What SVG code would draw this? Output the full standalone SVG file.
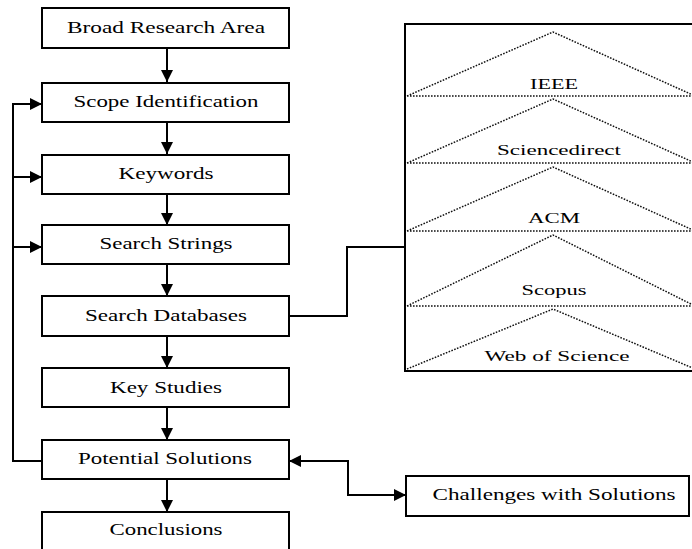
<svg xmlns="http://www.w3.org/2000/svg" width="692" height="549" viewBox="0 0 692 549">
<style>
.box{fill:#fff;stroke:#000;stroke-width:2}
text{font-family:Liberation Serif,DejaVu Serif,Times New Roman,serif}
.lbl{font-size:16px;fill:#000;text-anchor:middle}
.db{font-size:15px;fill:#000;text-anchor:middle}
.con{fill:none;stroke:#000;stroke-width:2}
.dot{fill:none;stroke:#111;stroke-width:1.5;stroke-dasharray:1.6 1.4}
</style>
<defs>
<marker id="ah" markerUnits="userSpaceOnUse" markerWidth="13" markerHeight="13" refX="12" refY="6.5" orient="auto-start-reverse">
<path d="M0,0.5 L12,6.5 L0,12.5 z" fill="#000"/>
</marker>
</defs>
<rect width="692" height="549" fill="#fff"/>
<g id="connectors">
<line class="con" x1="167" y1="48" x2="167" y2="82" marker-end="url(#ah)"/>
<line class="con" x1="167" y1="122" x2="167" y2="154" marker-end="url(#ah)"/>
<line class="con" x1="167" y1="194" x2="167" y2="225" marker-end="url(#ah)"/>
<line class="con" x1="167" y1="264" x2="167" y2="296" marker-end="url(#ah)"/>
<line class="con" x1="167" y1="336" x2="167" y2="368" marker-end="url(#ah)"/>
<line class="con" x1="167" y1="407" x2="167" y2="440" marker-end="url(#ah)"/>
<line class="con" x1="167" y1="479" x2="167" y2="512" marker-end="url(#ah)"/>
<path class="con" d="M42,461 H13 V104 H42" marker-end="url(#ah)"/>
<path class="con" d="M13,177 H42" marker-end="url(#ah)"/>
<path class="con" d="M13,247 H42" marker-end="url(#ah)"/>
<path class="con" d="M289,316 H347 V247 H405"/>
<path class="con" d="M289,461 H348 V495 H406" marker-start="url(#ah)" marker-end="url(#ah)"/>
</g>
<g id="n-broad"><rect class="box" x="42" y="8" width="247" height="40"/><text class="lbl" x="166" y="33" textLength="198" lengthAdjust="spacingAndGlyphs">Broad Research Area</text></g>
<g id="n-scope"><rect class="box" x="42" y="83" width="247" height="39"/><text class="lbl" x="166" y="107" textLength="185" lengthAdjust="spacingAndGlyphs">Scope Identification</text></g>
<g id="n-keywords"><rect class="box" x="42" y="155" width="247" height="39"/><text class="lbl" x="166" y="179" textLength="95" lengthAdjust="spacingAndGlyphs">Keywords</text></g>
<g id="n-strings"><rect class="box" x="42" y="225" width="247" height="39"/><text class="lbl" x="166" y="249" textLength="133" lengthAdjust="spacingAndGlyphs">Search Strings</text></g>
<g id="n-databases"><rect class="box" x="42" y="296" width="247" height="40"/><text class="lbl" x="166" y="321" textLength="162" lengthAdjust="spacingAndGlyphs">Search Databases</text></g>
<g id="n-studies"><rect class="box" x="42" y="368" width="247" height="39"/><text class="lbl" x="166" y="393" textLength="112" lengthAdjust="spacingAndGlyphs">Key Studies</text></g>
<g id="n-potential"><rect class="box" x="42" y="440" width="247" height="39"/><text class="lbl" x="165" y="464" textLength="174" lengthAdjust="spacingAndGlyphs">Potential Solutions</text></g>
<g id="n-conclusions"><rect class="box" x="42" y="512" width="247" height="42"/><text class="lbl" x="166" y="535" textLength="113" lengthAdjust="spacingAndGlyphs">Conclusions</text></g>
<g id="n-challenges"><rect class="box" x="406" y="476" width="283" height="40"/><text class="lbl" x="554" y="500" textLength="243" lengthAdjust="spacingAndGlyphs">Challenges with Solutions</text></g>
<g id="n-dbpanel">
<rect x="405" y="24" width="300" height="347" fill="#fff"/>
<line class="con" x1="405" y1="23" x2="405" y2="372"/>
<line class="con" x1="404" y1="24" x2="692" y2="24"/>
<line class="con" x1="404" y1="371" x2="692" y2="371"/>
<path class="dot" d="M407,96 L553,32 L695,96 M407,96 H692"/>
<path class="dot" d="M407,163 L553,99 L695,163 M407,163 H692"/>
<path class="dot" d="M407,231 L553,167 L695,231 M407,231 H692"/>
<path class="dot" d="M407,306 L553,235 L695,306 M407,306 H692"/>
<path class="dot" d="M407,369 L553,309 L695,369"/>
<text class="db" x="554" y="89" font-size="13" textLength="48" lengthAdjust="spacingAndGlyphs">IEEE</text>
<text class="db" x="559" y="155" textLength="124" lengthAdjust="spacingAndGlyphs">Sciencedirect</text>
<text class="db" x="554" y="223" font-size="16" textLength="52" lengthAdjust="spacingAndGlyphs">ACM</text>
<text class="db" x="554" y="295" textLength="65" lengthAdjust="spacingAndGlyphs">Scopus</text>
<text class="db" x="557" y="361" font-size="16" textLength="145" lengthAdjust="spacingAndGlyphs">Web of Science</text>
</g>
</svg>
